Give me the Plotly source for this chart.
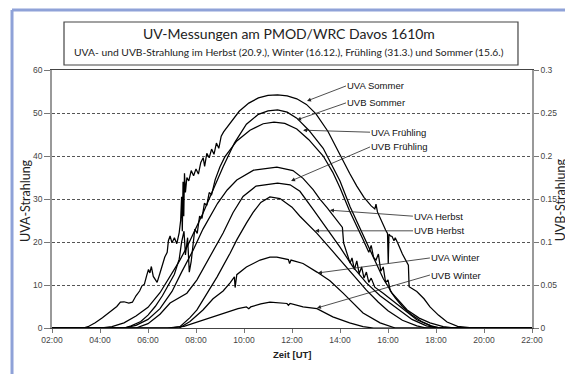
import plotly.graph_objects as go

# ---------------- data ----------------
# time in hours UT; UVA in left-axis units, UVB in right-axis units
t_uva_sommer = [2.0, 3.3, 3.5, 3.8, 4.1, 4.4, 4.7, 4.85, 5.0, 5.2, 5.35, 5.5, 5.65, 5.75, 5.85, 5.95, 6.02, 6.08,
                6.14, 6.22, 6.3, 6.38, 6.5, 6.6, 6.7, 6.8, 6.85, 6.92, 7.0, 7.1, 7.2, 7.3, 7.36, 7.4, 7.43, 7.46,
                7.49, 7.52, 7.56, 7.62, 7.7, 7.8, 7.9, 8.0, 8.1, 8.2, 8.3, 8.36, 8.45, 8.55, 8.65, 8.75, 8.85,
                8.95, 9.05, 9.15, 9.5, 9.8, 10.2, 10.6, 11.0, 11.4, 11.8, 12.2, 12.6, 13.0, 13.5, 14.0, 14.4,
                14.7, 15.0, 15.3, 15.45, 15.5, 15.56, 15.9, 15.98, 16.01, 16.04, 16.1, 16.17, 16.25, 16.3, 16.4,
                16.6, 16.85, 16.88, 17.0, 17.2, 17.5, 17.75, 18.1, 18.46, 18.9, 19.3, 19.6, 22.0]
v_uva_sommer = [0, 0, 0.3, 1.2, 2.4, 3.7, 5.0, 6.0, 6.1, 5.8, 6.0, 7.5, 8.6, 9.8, 10.2, 12.3, 13.6, 12.8,
                14.3, 12.0, 11.4, 10.6, 12.8, 15.0, 16.5, 17.6, 20.3, 21.4, 19.8, 21.0, 19.6, 22.2, 25.0, 30.5, 22.5, 34.0,
                26.0, 36.0, 31.5, 35.0, 34.2, 36.6, 35.4, 37.0, 35.8, 38.5, 39.6, 37.6, 40.6, 39.6, 41.6, 40.4, 43.0,
                41.8, 44.6, 45.6, 48.3, 50.4, 52.3, 53.5, 54.1, 54.2, 54.0, 53.3, 52.0, 49.8, 45.7, 40.2, 36.0,
                33.0, 30.4, 28.4, 27.7, 28.8, 27.0, 22.8, 22.0, 15.0, 21.8, 21.4, 21.3, 20.3, 21.0, 19.8,
                17.2, 14.6, 9.6, 9.2, 8.5, 6.8, 4.9, 3.0, 1.4, 0.4, 0.1, 0, 0]

t_uvb_sommer = [2.0, 4.0, 4.5, 5.0, 5.5, 6.0, 6.5, 6.92, 7.3, 7.62, 8.0, 8.29, 8.7, 9.13, 9.6, 10.1, 10.6, 11.0,
                11.4, 11.8, 12.2, 12.7, 13.3, 13.7, 14.0, 14.42, 14.96, 15.46, 15.8, 16.17, 16.8, 17.3, 17.75,
                18.3, 18.8, 22.0]
v_uvb_sommer = [0, 0, 0.0015, 0.006, 0.014, 0.024, 0.041, 0.0595, 0.0775, 0.094, 0.1165, 0.1335, 0.16, 0.1875,
                0.215, 0.237, 0.2485, 0.2525, 0.2535, 0.251, 0.244, 0.23, 0.209, 0.188, 0.171, 0.141, 0.108,
                0.0765, 0.0575, 0.0405, 0.021, 0.0115, 0.006, 0.0015, 0, 0]

t_uva_fruehling = [2.0, 5.0, 5.3, 5.7, 6.0, 6.3, 6.6, 6.9, 7.1, 7.3, 7.4, 7.5, 7.56, 7.65, 7.72, 7.8, 7.88, 7.95,
                   8.05, 8.15, 8.25, 8.35, 8.45, 8.55, 8.65, 8.8, 9.0, 9.2, 9.7, 10.25, 10.8, 11.25, 11.7, 12.2,
                   12.7, 13.3, 13.7, 14.0, 14.4, 14.7, 14.96, 15.2, 15.3, 15.4, 15.5, 15.6, 15.7, 15.8, 15.9,
                   16.0, 16.1, 16.3, 16.6, 17.0, 17.4, 17.8, 18.2, 22.0]
v_uva_fruehling = [0, 0, 0.5, 1.5, 3.0, 5.0, 7.5, 10.5, 12.5, 16.0, 20.0, 22.5, 17.0, 21.0, 13.0, 15.5, 19.0, 23.0,
                   22.0, 26.0, 25.5, 29.0, 28.5, 31.5, 31.0, 34.5, 37.5, 39.8, 43.5, 46.0, 47.5, 47.9, 47.6, 46.3,
                   43.8, 40.0, 36.2, 32.6, 27.2, 23.8, 20.6, 17.6, 19.2, 16.4, 15.8, 17.2, 13.2, 14.2, 10.6,
                   11.2, 8.6, 7.0, 5.0, 3.0, 1.5, 0.5, 0, 0]

t_uvb_fruehling = [2.0, 5.5, 6.0, 6.5, 6.92, 7.3, 7.62, 8.04, 8.58, 9.13, 9.54, 9.96, 10.5, 11.4, 11.92, 12.33,
                   12.88, 13.46, 14.0, 14.54, 15.1, 15.67, 16.37, 17.0, 17.6, 18.1, 22.0]
v_uvb_fruehling = [0, 0, 0.005, 0.016, 0.029, 0.035, 0.0405, 0.056, 0.0825, 0.1105, 0.134, 0.153, 0.165, 0.1685,
                   0.1665, 0.159, 0.138, 0.115, 0.094, 0.071, 0.0525, 0.0375, 0.0225, 0.01, 0.0025, 0, 0]

t_uva_herbst = [2.0, 5.0, 5.5, 6.0, 6.5, 7.0, 7.4, 7.88, 8.29, 8.6, 8.9, 9.3, 9.7, 10.4, 11.37, 12.04, 12.46,
                12.88, 13.17, 13.46, 13.8, 14.1, 14.15, 14.3, 14.42, 14.5, 14.6, 14.7, 14.8, 14.9, 15.0, 15.1,
                15.2, 15.3, 15.45, 15.8, 16.5, 17.2, 17.9, 18.3, 22.0]
v_uva_herbst = [0, 0, 0.6, 2.0, 4.5, 8.5, 13.0, 18.1, 23.0, 26.0, 29.0, 32.1, 34.4, 36.7, 37.4, 36.6, 34.8,
                32.2, 29.9, 28.0, 25.6, 23.4, 19.8, 17.2, 15.1, 16.3, 13.6, 15.6, 12.6, 14.2, 11.6, 13.0,
                10.6, 11.6, 9.5, 8.1, 4.9, 1.9, 0.2, 0, 0]

t_uvb_herbst = [2.0, 6.8, 7.33, 7.75, 8.04, 8.29, 8.88, 9.42, 9.71, 10.1, 10.38, 10.7, 11.08, 11.5, 12.0, 12.33,
                13.04, 13.7, 14.42, 15.1, 15.6, 16.0, 16.6, 17.2, 17.6, 22.0]
v_uvb_herbst = [0, 0, 0.0015, 0.012, 0.021, 0.032, 0.0595, 0.087, 0.103, 0.122, 0.1345, 0.146, 0.1525, 0.1505,
                0.1405, 0.13, 0.11, 0.089, 0.066, 0.044, 0.03, 0.02, 0.009, 0.0025, 0, 0]

t_uva_winter = [2.0, 7.3, 7.75, 8.29, 8.71, 9.13, 9.42, 9.55, 9.6, 9.63, 9.7, 10.1, 10.67, 11.08, 11.37, 11.85,
                11.9, 11.96, 12.46, 13.04, 13.58, 14.13, 14.96, 15.67, 16.3, 22.0]
v_uva_winter = [0, 0, 1.5, 4.2, 6.8, 8.6, 10.5, 11.6, 11.9, 9.4, 12.4, 14.2, 15.8, 16.5, 16.5, 15.9,
                15.0, 15.8, 15.0, 13.0, 11.0, 8.1, 3.5, 1.2, 0, 0]

t_uvb_winter = [2.0, 6.9, 7.5, 8.29, 9.13, 9.75, 10.1, 10.2, 10.28, 10.7, 11.08, 11.6, 11.79, 11.85, 11.92,
                12.46, 13.04, 13.7, 14.4, 14.96, 15.4, 22.0]
v_uvb_winter = [0, 0, 0.002, 0.0095, 0.0175, 0.0225, 0.0245, 0.0225, 0.0245, 0.028, 0.03, 0.0295, 0.0285,
                0.0265, 0.0285, 0.0245, 0.0225, 0.013, 0.006, 0.0015, 0, 0]

x_tick_vals = [2, 4, 6, 8, 10, 12, 14, 16, 18, 20, 22]
x_tick_labels = ["02:00", "04:00", "06:00", "08:00", "10:00", "12:00", "14:00", "16:00", "18:00", "20:00", "22:00"]
y_left_ticks = [0, 10, 20, 30, 40, 50, 60]
y_right_ticks = [0, 0.05, 0.1, 0.15, 0.2, 0.25, 0.3]
y_right_labels = ["0", "0.05", "0.1", "0.15", "0.2", "0.25", "0.3"]

# label, tip time, tip value (left-axis units), tail offset px
labels = ["UVA Sommer", "UVB Sommer", "UVA Frühling", "UVB Frühling",
          "UVA Herbst", "UVB Herbst", "UVA Winter", "UVB Winter"]
label_tip_t = [12.625, 12.21, 12.46, 11.96, 13.58, 12.96, 13.08, 13.04]
label_tip_v = [52.8, 48.4, 46.0, 34.2, 27.4, 22.6, 12.8, 4.65]
label_ax = [39, 49, 67, 79, 83, 98, 112, 113]
label_ay = [-15, -17, 2, -34, 6, 0, -15, -33]

title = "UV-Messungen am PMOD/WRC Davos 1610m"
subtitle = "UVA- und UVB-Strahlung im Herbst (20.9.), Winter (16.12.), Frühling (31.3.) und Sommer (15.6.)"

# ---------------- figure ----------------
fig = go.Figure()
line_style = dict(color="black", width=1.25)
uva = [(t_uva_sommer, v_uva_sommer), (t_uva_fruehling, v_uva_fruehling),
       (t_uva_herbst, v_uva_herbst), (t_uva_winter, v_uva_winter)]
uvb = [(t_uvb_sommer, v_uvb_sommer), (t_uvb_fruehling, v_uvb_fruehling),
       (t_uvb_herbst, v_uvb_herbst), (t_uvb_winter, v_uvb_winter)]
for t, v in uva:
    fig.add_trace(go.Scatter(x=t, y=v, mode="lines", line=line_style, yaxis="y", hoverinfo="skip"))
for t, v in uvb:
    fig.add_trace(go.Scatter(x=t, y=v, mode="lines", line=line_style, yaxis="y2", hoverinfo="skip"))

tickfont = dict(family="Liberation Sans", size=8.5, color="#444")
# page body has an 8px default margin, so the figure is 8px smaller
fig.update_layout(
    width=565, height=366,
    margin=dict(l=44, r=41, t=62, b=46),
    paper_bgcolor="white", plot_bgcolor="white",
    showlegend=False,
    xaxis=dict(range=[2, 22], tickvals=x_tick_vals, ticktext=x_tick_labels,
               showgrid=False, zeroline=False, showline=True, linecolor="#444", linewidth=1,
               mirror=True, ticks="outside", ticklen=4, tickcolor="#777", tickfont=tickfont),
    yaxis=dict(range=[0, 60], tickvals=y_left_ticks, showgrid=True, gridcolor="#555",
               griddash="3px,2px", gridwidth=0.8, zeroline=False, showline=True,
               linecolor="#999", linewidth=1.5, ticks="outside", ticklen=6, tickcolor="#777",
               tickfont=tickfont),
    yaxis2=dict(range=[0, 0.3], tickvals=y_right_ticks, ticktext=y_right_labels,
                overlaying="y", side="right", showgrid=False, zeroline=False, showline=True,
                linecolor="#999", linewidth=1.5, ticks="outside", ticklen=5, tickcolor="#777",
                tickfont=tickfont),
)

# outer blue frame (left and top edges) and title box
shapes = [
    dict(type="line", xref="paper", yref="paper", x0=-0.0833, x1=-0.0833, y0=-0.25, y1=1.2326,
         line=dict(color="#8fa2d8", width=3)),
    dict(type="line", xref="paper", yref="paper", x0=-0.0833, x1=1.15, y0=1.2326, y1=1.2326,
         line=dict(color="#8fa2d8", width=3)),
    dict(type="rect", xref="paper", yref="paper", x0=0.025, x1=0.9708, y0=1.0194, y1=1.186,
         line=dict(color="#444", width=1.2), fillcolor="white"),
]
fig.update_layout(shapes=shapes)

ann = [
    dict(x=0.4938, y=1.1434, xref="paper", yref="paper", text=title, showarrow=False,
         font=dict(family="Lato", size=14, color="#222"), xanchor="center", yanchor="middle"),
    dict(x=0.4938, y=1.0698, xref="paper", yref="paper", text=subtitle, showarrow=False,
         font=dict(family="Lato", size=10.3, color="#222"), xanchor="center", yanchor="middle"),
    dict(x=-0.0563, y=0.4961, xref="paper", yref="paper", text="UVA-Strahlung", showarrow=False,
         textangle=-90, font=dict(family="Lato", size=12.5, color="#222"), xanchor="center", yanchor="middle"),
    dict(x=1.059, y=0.4961, xref="paper", yref="paper", text="UVB-Strahlung", showarrow=False,
         textangle=-90, font=dict(family="Lato", size=12.5, color="#222"), xanchor="center", yanchor="middle"),
    dict(x=0.5, y=-0.1008, xref="paper", yref="paper", text="<b>Zeit [UT]</b>", showarrow=False,
         font=dict(family="Liberation Sans", size=9.5, color="#222"), xanchor="center", yanchor="middle"),
]
for lab, tx, vy, ax, ay in zip(labels, label_tip_t, label_tip_v, label_ax, label_ay):
    ann.append(dict(x=tx, y=vy, xref="x", yref="y", text=lab, showarrow=True,
                    ax=ax, ay=ay, axref="pixel", ayref="pixel", xanchor="left", yanchor="middle",
                    arrowhead=2, arrowsize=1.0, arrowwidth=0.8, arrowcolor="#222",
                    standoff=0, startstandoff=0, borderpad=0,
                    font=dict(family="Liberation Sans", size=9.5, color="#111")))
fig.update_layout(annotations=ann)

fig.write_html("out.html")
